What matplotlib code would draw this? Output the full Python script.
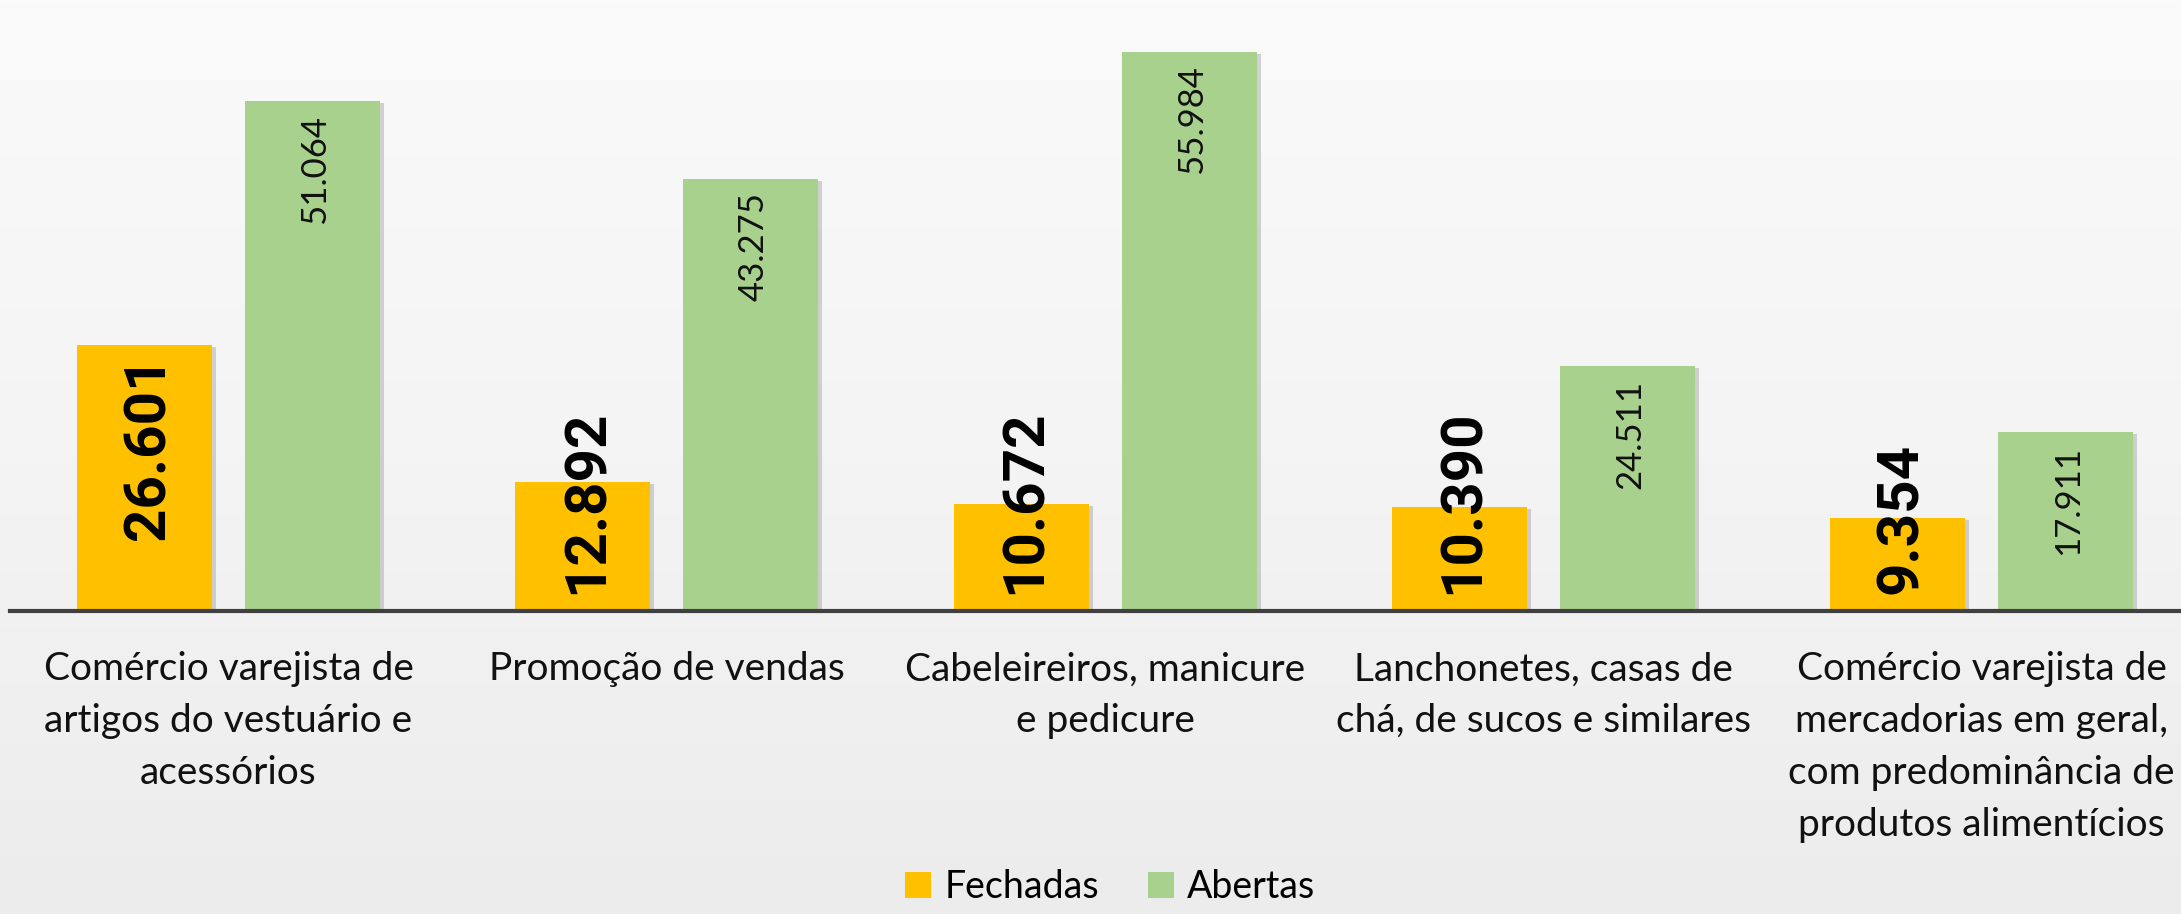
import matplotlib
matplotlib.use("Agg")
import matplotlib.pyplot as plt
import matplotlib.patheffects as pe
import numpy as np
from matplotlib.colors import LinearSegmentedColormap

categories = [
    "Comércio varejista de\nartigos do vestuário e\nacessórios",
    "Promoção de vendas",
    "Cabeleireiros, manicure\ne pedicure",
    "Lanchonetes, casas de\nchá, de sucos e similares",
    "Comércio varejista de\nmercadorias em geral,\ncom predominância de\nprodutos alimentícios",
]
fechadas = [26.601, 12.892, 10.672, 10.390, 9.354]
abertas = [51.064, 43.275, 55.984, 24.511, 17.911]
series_names = ["Fechadas", "Abertas"]

W, H, DPI = 2181, 914, 100
fig = plt.figure(figsize=(W / DPI, H / DPI), dpi=DPI)

# background gradient
bg = fig.add_axes([0, 0, 1, 1], zorder=-10)
grad = np.linspace(0, 1, 256).reshape(-1, 1)
cmap = LinearSegmentedColormap.from_list("bg", ["#fafafa", "#f4f4f4", "#ececec"])
bg.imshow(grad, aspect="auto", cmap=cmap, extent=[0, 1, 0, 1])
bg.axis("off")

baseline_px = 611
ax = fig.add_axes([10 / W, 1 - baseline_px / H, 1 - 10 / W, baseline_px / H])
ax.patch.set_alpha(0)

x = np.arange(len(categories))
bw = 0.308
off = 0.1917
shadow = [pe.SimplePatchShadow(offset=(3, -1.5), shadow_rgbFace="#888888", alpha=0.35), pe.Normal()]
b1 = ax.bar(x - off, fechadas, bw, color="#FFC000", label=series_names[0], path_effects=shadow, zorder=2)
b2 = ax.bar(x + off, abertas, bw, color="#A9D18E", label=series_names[1], path_effects=shadow, zorder=2)

ax.set_xlim(-0.4986, 4.455)
ax.set_ylim(0, 61.14)
for s in ["top", "right", "left"]:
    ax.spines[s].set_visible(False)
ax.spines["bottom"].set_linewidth(3.0)
ax.spines["bottom"].set_color("#404040")
ax.spines["bottom"].set_zorder(3)
ax.set_yticks([])
ax.set_xticks(x)
ax.set_xticklabels(categories, fontsize=28, family="Lato", color="#111111", linespacing=1.55, va="top")
ax.tick_params(axis="x", length=0, pad=29)

pad_top = 7
pad_bot = 12.5
labels_f = []
for xi, v in zip(x, fechadas):
    t = ax.annotate(f"{v:.3f}", xy=(xi - off, v), xytext=(3, -pad_top), textcoords="offset points",
                    rotation=90, ha="center", va="top", fontsize=42, fontweight="bold",
                    family="Roboto", color="black", zorder=5)
    labels_f.append((t, xi, v))
for xi, v in zip(x, abertas):
    ax.annotate(f"{v:.3f}", xy=(xi + off, v), xytext=(2, -10), textcoords="offset points",
                rotation=90, ha="center", va="top", fontsize=25, fontweight="normal",
                family="Lato", color="#111111", zorder=5)

fig.canvas.draw()
r = fig.canvas.get_renderer()
base_disp = ax.transData.transform((0, 0))[1]
min_gap = pad_bot * DPI / 72
for t, xi, v in labels_f:
    bb = t.get_window_extent(r)
    if bb.y0 < base_disp + min_gap:
        t.xy = (xi - off, 0)
        t.xyann = (3, pad_bot)
        t.set_va("bottom")

leg = fig.legend(handles=[b1, b2], labels=series_names, loc="lower center", ncol=2,
                 bbox_to_anchor=(0.509, -0.027), frameon=False,
                 handlelength=0.7, handleheight=0.7, handletextpad=0.35, columnspacing=1.3,
                 prop={"family": "Lato", "size": 27})
for h in leg.legend_handles:
    h.set_path_effects([])

fig.savefig("out.png", dpi=DPI)
